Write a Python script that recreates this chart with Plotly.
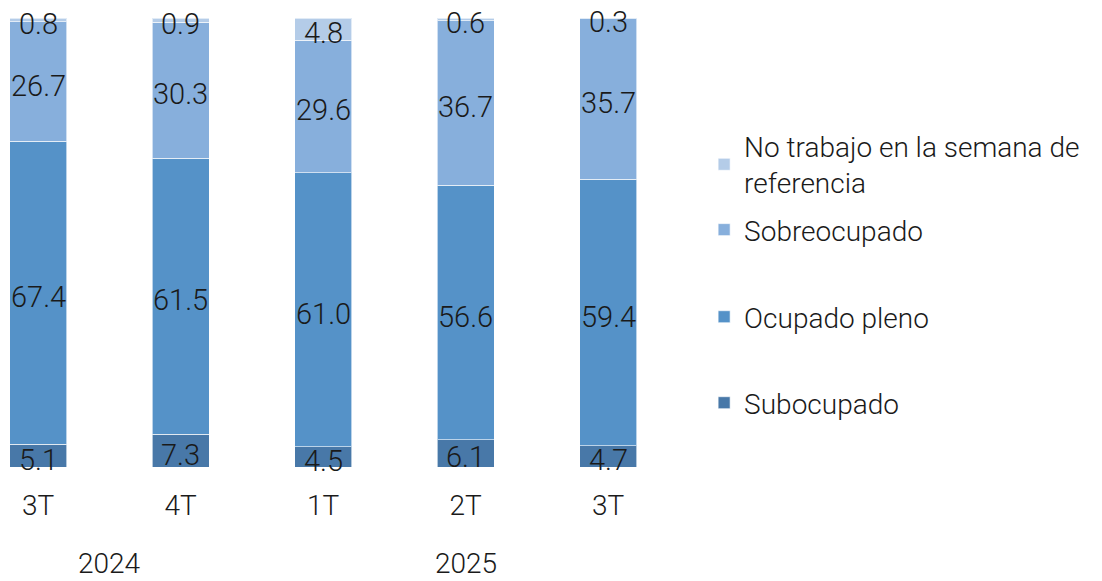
import plotly.graph_objects as go
import numpy as np

quarters = ["3T", "4T", "1T", "2T", "3T"]
years = ["2024", "2025"]
year_groups = [[0, 1], [2, 3, 4]]

series_names = ["Subocupado", "Ocupado pleno", "Sobreocupado",
                "No trabajo en la semana de<br>referencia"]
subocupado = [5.1, 7.3, 4.5, 6.1, 4.7]
ocupado_pleno = [67.4, 61.5, 61.0, 56.6, 59.4]
sobreocupado = [26.7, 30.3, 29.6, 36.7, 35.7]
no_trabajo = [0.8, 0.9, 4.8, 0.6, 0.3]

colors = ["#4878a8", "#5592c8", "#87afdc", "#b4cce8"]
legend_ids = ["legend4", "legend3", "legend2", "legend"]
legend_y = [0.1425, 0.334, 0.528, 0.674]

FONT = "Roboto"
TXT = "#1a1a1a"
x = list(range(len(quarters)))
series = [subocupado, ocupado_pleno, sobreocupado, no_trabajo]

fig = go.Figure()
base = np.zeros(len(x))
for name, vals, col, lg in zip(series_names, series, colors, legend_ids):
    vals = np.array(vals)
    fig.add_trace(go.Bar(
        x=x, y=vals, name=name, showlegend=True,
        marker=dict(color=col, line=dict(color="rgba(255,255,255,0.6)", width=1)),
        width=0.4, legend=lg, hoverinfo="skip"))
    for i, v in enumerate(vals):
        fig.add_annotation(x=x[i], y=float(base[i] + v / 2), xref="x", yref="y",
                           text=f"{v:.1f}", showarrow=False, yshift=-4,
                           font=dict(family=FONT, size=29, color=TXT, weight=300))
    base = base + vals

for yr, grp in zip(years, year_groups):
    fig.add_annotation(x=float(np.mean([x[i] for i in grp])), y=-0.214, xref="x", yref="paper",
                       text=yr, showarrow=False, yanchor="middle",
                       font=dict(family=FONT, size=28, color=TXT, weight=300))

layout_legends = {}
for lg, ly in zip(legend_ids, legend_y):
    layout_legends[lg] = dict(x=1.037, y=ly, xanchor="left", yanchor="middle",
                              font=dict(family=FONT, size=28, color=TXT, weight=300),
                              bgcolor="rgba(0,0,0,0)", itemclick=False)

fig.update_layout(
    barmode="stack",
    showlegend=True,
    width=1102, height=581,
    margin=dict(l=0, r=423, t=18, b=114),
    plot_bgcolor="white", paper_bgcolor="white",
    font=dict(family=FONT, size=28, color=TXT, weight=300),
    xaxis=dict(range=[-0.2667, 4.498], tickvals=x, ticktext=quarters, showgrid=False,
               zeroline=False, showline=False, ticks="", ticklabelstandoff=19,
               tickfont=dict(family=FONT, size=28, color=TXT, weight=300)),
    yaxis=dict(range=[0, 100], visible=False, showgrid=False, zeroline=False),
    **layout_legends,
)

fig.write_html("out.html", config={"displayModeBar": False},
               post_script="document.body.style.margin='0';")
